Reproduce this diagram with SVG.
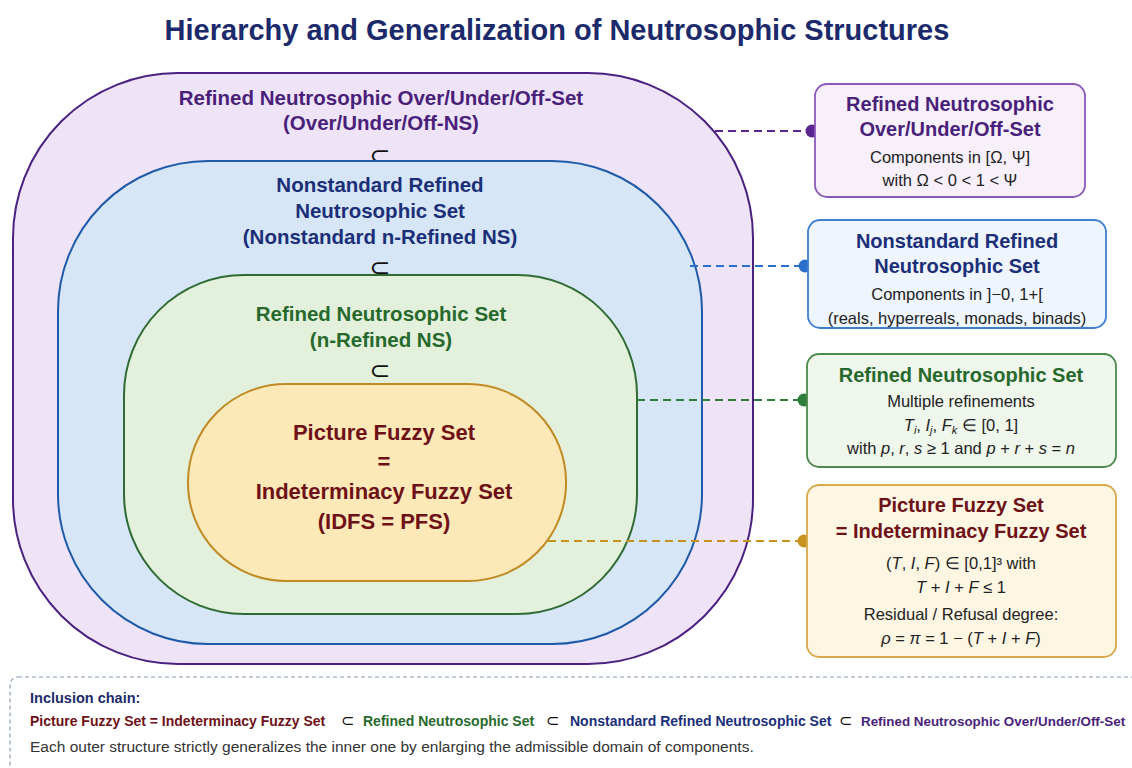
<svg xmlns="http://www.w3.org/2000/svg" width="1132" height="768" viewBox="0 0 1132 768">
<style>
text{font-family:"Liberation Sans",Arial,sans-serif;text-anchor:middle}
.t{font-size:29px;font-weight:bold;fill:#1c2a6b}
.h{font-size:20.5px;font-weight:bold}
.hr{font-size:20px;font-weight:bold}
.hp{font-size:22px;font-weight:bold;fill:#6e1117}
.pu{fill:#4a1f7a}.bl{fill:#1b2f78}.gr{fill:#27692c}.rd{fill:#6e1117}
.b{font-size:16.5px;fill:#222}
.sub{font-family:"DejaVu Sans",sans-serif;font-size:25px;fill:#111}
.i{font-style:italic}
.cap{text-anchor:start}
.conn{stroke-width:2;stroke-dasharray:8 5;fill:none}
</style>
<text class="t" x="557" y="40">Hierarchy and Generalization of Neutrosophic Structures</text>

<g id="set-over">
<rect x="13" y="73" width="740" height="591" rx="165" fill="#efe4f7" stroke="#4a2180" stroke-width="2"/>
<text class="h pu" x="381" y="105">Refined Neutrosophic Over/Under/Off-Set</text>
<text class="h pu" x="381" y="130">(Over/Under/Off-NS)</text>
<text class="sub" x="380" y="164">⊂</text>
</g>
<g id="set-nonstandard">
<rect x="58" y="161" width="644" height="483" rx="150" fill="#d6e6f7" stroke="#1f5aa8" stroke-width="2"/>
<text class="h bl" x="380" y="192">Nonstandard Refined</text>
<text class="h bl" x="380" y="218">Neutrosophic Set</text>
<text class="h bl" x="380" y="244">(Nonstandard n-Refined NS)</text>
<text class="sub" x="380" y="276">⊂</text>
</g>
<g id="set-refined">
<rect x="124" y="275" width="513" height="339" rx="120" fill="#e3f1dc" stroke="#2f6b33" stroke-width="2"/>
<text class="h gr" x="381" y="321">Refined Neutrosophic Set</text>
<text class="h gr" x="381" y="347">(n-Refined NS)</text>
<text class="sub" x="380" y="379">⊂</text>
</g>
<g id="set-picture">
<rect x="188" y="384" width="378" height="197" rx="98" fill="#fde9b8" stroke="#c08a25" stroke-width="2"/>
<text class="hp" x="384" y="440">Picture Fuzzy Set</text>
<text class="hp" x="384" y="469">=</text>
<text class="hp" x="384" y="499">Indeterminacy Fuzzy Set</text>
<text class="hp" x="384" y="529">(IDFS = PFS)</text>
</g>

<g id="connectors">
<line class="conn" x1="715" y1="131" x2="812" y2="131" stroke="#5b2590"/>
<circle cx="812" cy="131" r="6.5" fill="#5b2590"/>
<line class="conn" x1="690" y1="266" x2="805" y2="266" stroke="#2a6fc9"/>
<circle cx="805" cy="266" r="6.5" fill="#2a6fc9"/>
<line class="conn" x1="637" y1="400" x2="804" y2="400" stroke="#2e7d3a"/>
<circle cx="804" cy="400" r="6.5" fill="#2e7d3a"/>
<line class="conn" x1="548" y1="541" x2="804" y2="541" stroke="#c8921e"/>
<circle cx="804" cy="541" r="6.5" fill="#c8921e"/>
</g>

<g id="box-over">
<rect x="815" y="84" width="270" height="113" rx="12" fill="#f7f0fb" stroke="#8a5ab8" stroke-width="1.8"/>
<text class="hr pu" x="950" y="111">Refined Neutrosophic</text>
<text class="hr pu" x="950" y="136">Over/Under/Off-Set</text>
<text class="b" x="950" y="163">Components in [Ω, Ψ]</text>
<text class="b" x="950" y="186">with Ω &lt; 0 &lt; 1 &lt; Ψ</text>
</g>
<g id="box-nonstandard">
<rect x="808" y="220" width="298" height="108" rx="12" fill="#eef5fd" stroke="#3f7fcf" stroke-width="1.8"/>
<text class="hr bl" x="957" y="248">Nonstandard Refined</text>
<text class="hr bl" x="957" y="273">Neutrosophic Set</text>
<text class="b" x="957" y="300">Components in ]−0, 1+[</text>
<text class="b" x="957" y="324">(reals, hyperreals, monads, binads)</text>
</g>
<g id="box-refined">
<rect x="807" y="354" width="309" height="113" rx="12" fill="#eff6ec" stroke="#4a8a4a" stroke-width="1.8"/>
<text class="hr gr" x="961" y="382">Refined Neutrosophic Set</text>
<text class="b" x="961" y="407">Multiple refinements</text>
<text class="b" x="961" y="431"><tspan class="i">T</tspan><tspan class="i" font-size="11" dy="3">i</tspan><tspan dy="-3">, </tspan><tspan class="i">I</tspan><tspan class="i" font-size="11" dy="3">j</tspan><tspan dy="-3">, </tspan><tspan class="i">F</tspan><tspan class="i" font-size="11" dy="3">k</tspan><tspan dy="-3"> ∈ [0, 1]</tspan></text>
<text class="b" x="961" y="454">with <tspan class="i">p</tspan>, <tspan class="i">r</tspan>, <tspan class="i">s</tspan> ≥ 1 and <tspan class="i">p</tspan> + <tspan class="i">r</tspan> + <tspan class="i">s</tspan> = <tspan class="i">n</tspan></text>
</g>
<g id="box-picture">
<rect x="807" y="485" width="309" height="172" rx="12" fill="#fdf6e3" stroke="#d8a84a" stroke-width="1.8"/>
<text class="hr rd" x="961" y="512">Picture Fuzzy Set</text>
<text class="hr rd" x="961" y="538">= Indeterminacy Fuzzy Set</text>
<text class="b" x="961" y="569">(<tspan class="i">T</tspan>, <tspan class="i">I</tspan>, <tspan class="i">F</tspan>) ∈ [0,1]³ with</text>
<text class="b" x="961" y="593"><tspan class="i">T</tspan> + <tspan class="i">I</tspan> + <tspan class="i">F</tspan> ≤ 1</text>
<text class="b" x="961" y="620">Residual / Refusal degree:</text>
<text class="b" x="961" y="644"><tspan class="i">ρ</tspan> = <tspan class="i">π</tspan> = 1 − (<tspan class="i">T</tspan> + <tspan class="i">I</tspan> + <tspan class="i">F</tspan>)</text>
</g>

<g id="legend">
<rect x="10" y="677" width="1140" height="100" rx="8" fill="#ffffff" stroke="#8a9bc0" stroke-width="1.2" stroke-dasharray="4 3"/>
<text class="cap" x="30" y="703" font-weight="bold" fill="#1c2a6b" font-size="14.5">Inclusion chain:</text>
<text class="cap" y="726" font-weight="bold" font-size="14"><tspan x="30" fill="#6e1117">Picture Fuzzy Set = Indeterminacy Fuzzy Set</tspan><tspan x="341" fill="#111" font-weight="normal" font-size="16" font-family="DejaVu Sans, sans-serif">⊂</tspan><tspan x="363" fill="#27692c">Refined Neutrosophic Set</tspan><tspan x="546" fill="#111" font-weight="normal" font-size="16" font-family="DejaVu Sans, sans-serif">⊂</tspan><tspan x="570" fill="#1b2f78">Nonstandard Refined Neutrosophic Set</tspan><tspan x="839" fill="#111" font-weight="normal" font-size="16" font-family="DejaVu Sans, sans-serif">⊂</tspan><tspan x="861" fill="#4a1f7a" font-size="13.4">Refined Neutrosophic Over/Under/Off-Set</tspan></text>
<text class="cap" x="30" y="752" fill="#333" font-size="15.5">Each outer structure strictly generalizes the inner one by enlarging the admissible domain of components.</text>
</g>
</svg>
